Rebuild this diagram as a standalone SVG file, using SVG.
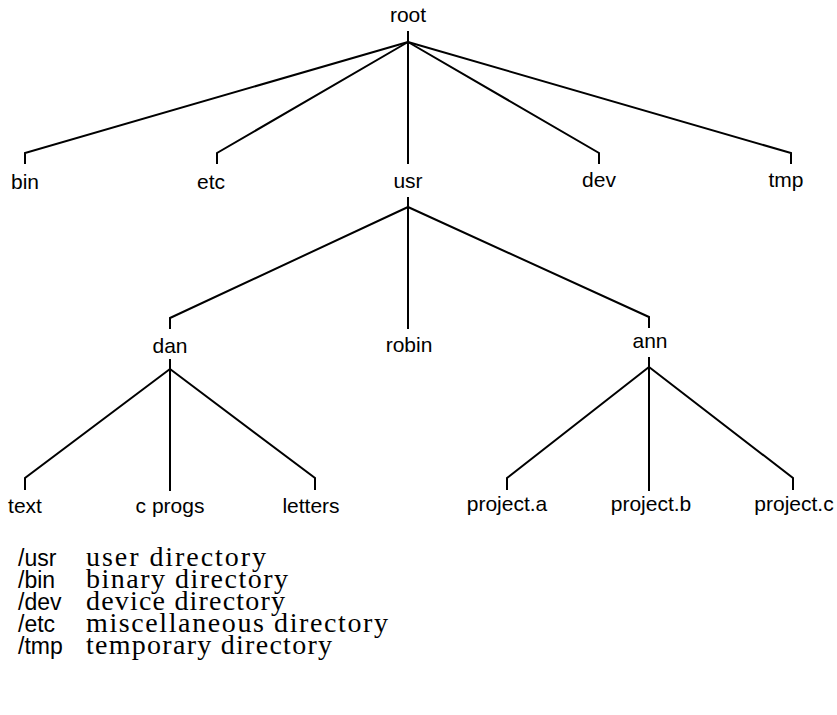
<svg xmlns="http://www.w3.org/2000/svg" width="837" height="715" viewBox="0 0 837 715">
<style>
  .lbl { font-family: "Liberation Sans", Arial, sans-serif; font-size: 21px; fill: #000; text-anchor: middle; }
  .key { font-family: "Liberation Sans", Arial, sans-serif; font-size: 23px; fill: #000; }
  .desc { font-family: "Liberation Serif", "Times New Roman", serif; font-size: 28px; fill: #000; }
  .edge { fill: none; stroke: #000; stroke-width: 2; stroke-linejoin: miter; stroke-linecap: butt; }
</style>
<rect width="837" height="715" fill="#fff"/>
<g id="connectors">
  <path class="edge" d="M408,31 V42"/>
  <path class="edge" d="M408,42 L25,153 V164"/>
  <path class="edge" d="M408,42 L217,153 V164"/>
  <path class="edge" d="M408,42 V164"/>
  <path class="edge" d="M408,42 L599,153 V164"/>
  <path class="edge" d="M408,42 L791,153 V164"/>
  <path class="edge" d="M408,197 V207"/>
  <path class="edge" d="M408,207 L170,318 V329"/>
  <path class="edge" d="M408,207 V329"/>
  <path class="edge" d="M408,207 L649,317 V328"/>
  <path class="edge" d="M170,359 V369"/>
  <path class="edge" d="M170,369 L25,478 V490"/>
  <path class="edge" d="M170,369 V491"/>
  <path class="edge" d="M170,369 L315,478 V490"/>
  <path class="edge" d="M649,357 V367"/>
  <path class="edge" d="M649,367 L507,478 V490"/>
  <path class="edge" d="M649,367 V491"/>
  <path class="edge" d="M649,367 L793,478 V490"/>
</g>
<g id="root"><text class="lbl" x="408" y="22">root</text></g>
<g id="bin"><text class="lbl" x="25" y="189">bin</text></g>
<g id="etc"><text class="lbl" x="211" y="189">etc</text></g>
<g id="usr"><text class="lbl" x="408" y="188">usr</text></g>
<g id="dev"><text class="lbl" x="599" y="187">dev</text></g>
<g id="tmp"><text class="lbl" x="786" y="187">tmp</text></g>
<g id="dan"><text class="lbl" x="170" y="353">dan</text></g>
<g id="robin"><text class="lbl" x="409" y="352">robin</text></g>
<g id="ann"><text class="lbl" x="650" y="348">ann</text></g>
<g id="text"><text class="lbl" x="25" y="513">text</text></g>
<g id="cprogs"><text class="lbl" x="170" y="513">c progs</text></g>
<g id="letters"><text class="lbl" x="311" y="513">letters</text></g>
<g id="projecta"><text class="lbl" x="507" y="511">project.a</text></g>
<g id="projectb"><text class="lbl" x="651" y="511">project.b</text></g>
<g id="projectc"><text class="lbl" x="794" y="511">project.c</text></g>
<g id="legend">
  <text class="key" x="18" y="566">/usr</text><text class="desc" x="86" y="566" textLength="180" lengthAdjust="spacing">user directory</text>
  <text class="key" x="18" y="588">/bin</text><text class="desc" x="86" y="588" textLength="202" lengthAdjust="spacing">binary directory</text>
  <text class="key" x="18" y="610">/dev</text><text class="desc" x="86" y="610" textLength="199" lengthAdjust="spacing">device directory</text>
  <text class="key" x="18" y="632">/etc</text><text class="desc" x="86" y="632" textLength="302" lengthAdjust="spacing">miscellaneous directory</text>
  <text class="key" x="18" y="654">/tmp</text><text class="desc" x="86" y="654" textLength="246" lengthAdjust="spacing">temporary directory</text>
</g>
</svg>
